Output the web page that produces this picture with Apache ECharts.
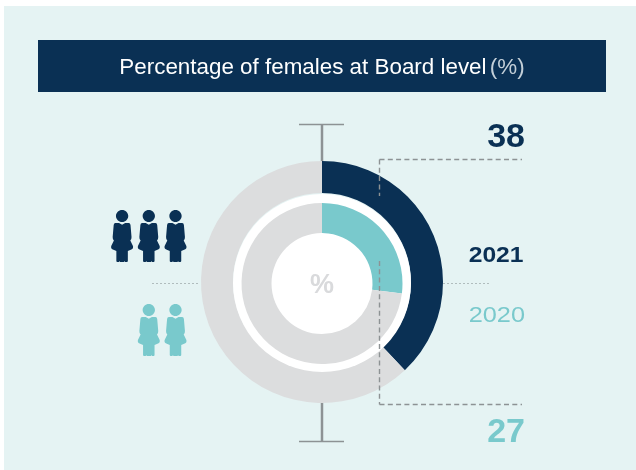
<!DOCTYPE html>
<html>
<head>
<meta charset="utf-8">
<style>
  html, body { margin: 0; padding: 0; background: #fff; }
  #chart { width: 636px; height: 470px; }
</style>
</head>
<body>
<div id="chart"></div>
<script src="https://cdn.jsdelivr.net/npm/echarts@6/dist/echarts.min.js"></script>
<script>
// values
var years = ['2021', '2020'];
var femalePct = [38, 27];
var restPct = [62, 73];
var iconCounts = [3, 2];
var titleText = 'Percentage of females at Board level';

var NAVY = '#0a3054', TEAL = '#79c9cc', GREY = '#dcddde', PANEL = '#e5f3f3', LINE = '#8d9294';
var FONT = '"Liberation Sans", Arial, sans-serif';
var cx = 322, cy = 283;

// woman icon, head on top, skirt and legs below
var womanPath = 'path://M0 0C3.3 0 6 2.7 6 6C6 9.3 3.3 12 0 12C-3.3 12 -6 9.3 -6 6C-6 2.7 -3.3 0 0 0Z' +
  'M-6.5 13L-3 13L0 14.8L3 13L6.5 13Q8 13 8.2 15L9.2 27Q9.3 29.5 8 30.5L10.6 36Q11.2 38.8 9 39.6L5.6 41L5.6 51Q5.6 52 4.6 52' +
  'L3 52L2.5 51L2 52L-2 52L-2.5 51L-3 52L-4.6 52Q-5.6 52 -5.6 51L-5.6 41L-9 39.6Q-11.2 38.8 -10.6 36L-8 30.5' +
  'Q-9.3 29.5 -9.2 27L-8.2 15Q-8 13 -6.5 13Z';

function line(x1, y1, x2, y2, color, width, dash) {
  return {
    type: 'line', z: 10, silent: true,
    shape: { x1: x1, y1: y1, x2: x2, y2: y2 },
    style: { stroke: color, lineWidth: width, lineDash: dash || null }
  };
}

function label(x, y, text, size, weight, color, align, scaleX) {
  return {
    type: 'text', z: 10, silent: true, x: x, y: y, scaleX: scaleX || 1, originX: 0, originY: 0,
    style: {
      text: text, fill: color, font: weight + ' ' + size + 'px ' + FONT,
      align: align, verticalAlign: 'middle'
    }
  };
}

// icon row, filled from the right
function iconRow(count, middle, color) {
  var pts = [];
  for (var i = 0; i < count; i++) pts.push([175.5 - 26.7 * i, middle]);
  return {
    type: 'scatter', silent: true, symbol: womanPath, symbolSize: [22, 52],
    itemStyle: { color: color, opacity: 1 }, data: pts
  };
}

var elements = [
  // panel and title bar
  { type: 'rect', z: 0, silent: true, shape: { x: 4, y: 6, width: 632, height: 464 }, style: { fill: PANEL } },
  { type: 'rect', z: 10, silent: true, shape: { x: 38, y: 40, width: 568, height: 52 }, style: { fill: NAVY } },
  {
    type: 'text', z: 11, silent: true, x: cx, y: 67.5,
    style: {
      text: '{a|' + titleText + '} {b|(%)}',
      align: 'center', verticalAlign: 'middle',
      rich: {
        a: { fill: '#ffffff', font: '400 22.4px ' + FONT },
        b: { fill: '#c3cfd8', font: '400 22.4px ' + FONT }
      }
    }
  },
  // whiskers
  line(cx, 124, cx, 161, LINE, 2.5),
  line(299, 124.5, 344, 124.5, LINE, 1.5),
  line(cx, 403, cx, 442, LINE, 2.5),
  line(299, 441.5, 344, 441.5, LINE, 1.5),
  // dotted centre line
  line(152, 283.5, 200, 283.5, '#b0bcbd', 1, [2, 2]),
  line(443, 283.5, 491, 283.5, '#b0bcbd', 1, [2, 2]),
  // dashed brackets
  line(379.5, 159.5, 522, 159.5, LINE, 1.4, [5, 3.3]),
  line(379.5, 159.5, 379.5, 196, LINE, 1.4, [5, 3.3]),
  line(379.5, 261, 379.5, 404.5, LINE, 1.4, [5, 3.3]),
  line(379.5, 404.5, 522, 404.5, LINE, 1.4, [5, 3.3]),
  // texts
  label(cx, 285.5, '%', 27, 'bold', '#d9dadc', 'center'),
  label(525, 138, String(femalePct[0]), 34, 'bold', NAVY, 'right'),
  label(525, 432.5, String(femalePct[1]), 34, 'bold', TEAL, 'right'),
  label(523.5, 255.5, years[0], 22, 'bold', NAVY, 'right', 1.12),
  label(525, 315.5, years[1], 22, 'normal', TEAL, 'right', 1.15)
];

var chart = echarts.init(document.getElementById('chart'));
chart.setOption({
  animation: false,
  backgroundColor: '#ffffff',
  grid: { left: 0, right: 0, top: 0, bottom: 0 },
  xAxis: { type: 'value', min: 0, max: 636, show: false },
  yAxis: { type: 'value', min: 0, max: 470, inverse: true, show: false },
  graphic: { elements: elements },
  series: [
    {
      name: years[0], type: 'pie', silent: true, center: [cx, cy - 1], radius: [89, 121], startAngle: 90,
      label: { show: false }, labelLine: { show: false },
      data: [
        { value: femalePct[0], itemStyle: { color: NAVY } },
        { value: restPct[0], itemStyle: { color: GREY } }
      ]
    },
    {
      // white disc behind the inner ring
      type: 'pie', silent: true, center: [cx, cy], radius: [0, 89],
      label: { show: false }, labelLine: { show: false },
      data: [{ value: 1, itemStyle: { color: '#ffffff' } }]
    },
    {
      name: years[1], type: 'pie', silent: true, center: [cx, cy + 0.5], radius: [50.5, 80.5], startAngle: 90,
      label: { show: false }, labelLine: { show: false },
      data: [
        { value: femalePct[1], itemStyle: { color: TEAL } },
        { value: restPct[1], itemStyle: { color: GREY } }
      ]
    },
    iconRow(iconCounts[0], 236, NAVY),
    iconRow(iconCounts[1], 330, TEAL)
  ]
});
</script>
</body>
</html>
